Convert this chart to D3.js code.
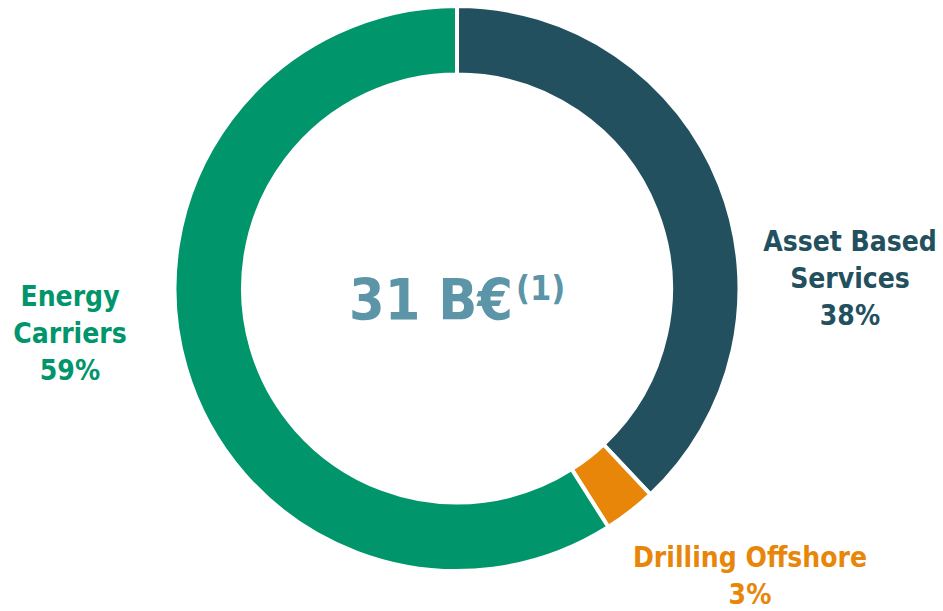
<!DOCTYPE html>
<html><head><meta charset="utf-8">
<script src="https://cdn.jsdelivr.net/npm/d3@7"></script>
<style>
html,body{margin:0;padding:0;background:#fff;}
text{font-family:"DejaVu Sans Condensed","DejaVu Sans",sans-serif;font-weight:bold;}
</style></head><body>
<svg id="c" width="943" height="611"></svg>
<script>
const categories = ["Asset Based Services", "Drilling Offshore", "Energy Carriers"];
const values = [38, 3, 59];
const labelLines = [["Asset Based", "Services", "38%"], ["Drilling Offshore", "3%"], ["Energy", "Carriers", "59%"]];
const colors = ["#23505f", "#e8860a", "#00956b"];
const centerText = "31 B€";
const centerSup = "(1)";

const svg = d3.select("#c");
const cx = 457, cy = 288.5, rOut = 282.5, rIn = 214;
const g = svg.append("g").attr("transform", `translate(${cx},${cy})`);
const pie = d3.pie().sort(null).value(d => d)(values);
const arc = d3.arc().innerRadius(rIn).outerRadius(rOut);
g.selectAll("path").data(pie).join("path")
  .attr("d", arc).attr("fill", (d,i) => colors[i])
  .attr("stroke", "#fff").attr("stroke-width", 4);

const center = svg.append("text").attr("x", 349).attr("y", 320)
  .attr("fill", "#5b95a7").attr("font-size", 57);
center.append("tspan").text(centerText);
center.append("tspan").attr("font-size", 34).attr("dy", -20).attr("dx", 3).text(centerSup);

const labelPos = [{x: 850, y: 251}, {x: 750, y: 567}, {x: 70, y: 306}];
labelLines.forEach((lines, i) => {
  const t = svg.append("text").attr("text-anchor", "middle").attr("fill", colors[i]).attr("font-size", 28);
  lines.forEach((l, j) => t.append("tspan").attr("x", labelPos[i].x).attr("y", labelPos[i].y + j * 37).text(l));
});
</script></body></html>
